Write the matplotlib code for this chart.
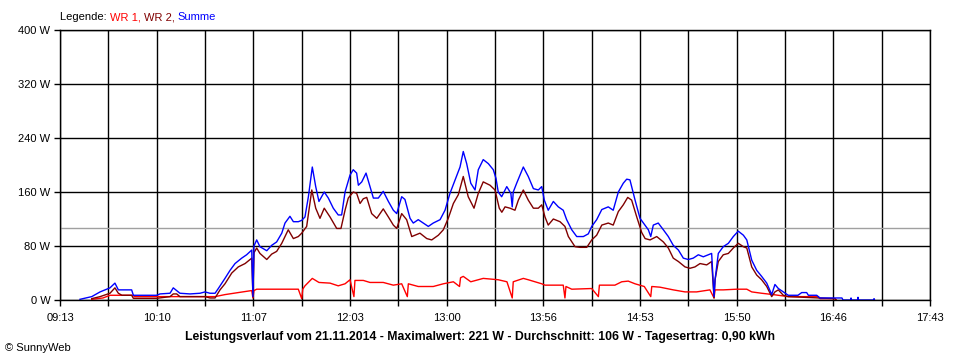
import matplotlib
matplotlib.use("Agg")
import matplotlib.pyplot as plt
from matplotlib.ticker import FixedLocator

# ---------------- data (time = minutes after 09:13, power in W) ----------------
start_minute = 553          # 09:13
end_minute = 1063           # 17:43
x_tick_labels = ["09:13", "10:10", "11:07", "12:03", "13:00",
                 "13:56", "14:53", "15:50", "16:46", "17:43"]
y_tick_values = [0, 80, 160, 240, 320, 400]
average_w = 106

sum_t = [11.7, 18.6, 23.5, 29.3, 32.2, 34.2, 42.0, 43.0, 56.7, 58.6, 64.5, 66.4,
         70.3, 76.2, 82.1, 85.0, 87.9, 90.9, 92.8, 96.7, 99.7, 102.6, 106.5,
         109.4, 112.4, 113.1, 113.7, 115.3, 117.2, 121.2, 124.1, 127.0, 130.0,
         131.9, 134.8, 136.8, 139.7, 141.7, 143.6, 145.6, 147.9, 149.9, 151.8,
         154.9, 157.3, 160.2, 163.1, 165.1, 167.1, 170.0, 171.9, 173.9, 174.9,
         176.9, 179.4, 181.7, 183.7, 186.6, 189.5, 192.5, 195.4, 197.4, 200.3,
         202.2, 205.2, 207.1, 210.0, 213.0, 215.9, 218.8, 222.8, 225.7, 228.6,
         231.6, 234.5, 236.4, 238.4, 240.8, 243.3, 245.2, 248.1, 251.1, 254.0,
         255.6, 256.9, 258.9, 261.9, 264.3, 265.1, 265.7, 267.7, 271.6, 274.5,
         277.5, 280.4, 282.4, 283.9, 286.2, 289.2, 292.1, 295.0, 297.0, 300.0,
         302.9, 306.8, 309.7, 311.7, 314.6, 317.6, 321.4, 324.3, 327.3, 330.2,
         332.2, 334.1, 337.1, 340.0, 342.9, 344.9, 346.3, 347.8, 350.7, 353.7,
         356.6, 359.5, 362.5, 365.4, 368.3, 371.2, 374.2, 377.1, 380.0, 382.0,
         383.4, 384.0, 385.9, 388.8, 391.8, 394.7, 397.6, 400.6, 402.6, 405.5,
         408.4, 411.3, 414.3, 417.2, 419.1, 421.1, 424.0, 426.9, 432.6, 434.8,
         437.7, 438.7, 443.6, 445.5, 458.4, 459.0, 463.4, 463.7, 464.0, 467.5,
         467.8, 468.1, 476.9, 477.2, 477.5]
sum_w = [1, 5, 12, 18, 25, 15, 15, 7, 7, 9, 10, 18,
         10, 9, 10, 12, 10, 10, 17, 32, 44, 54, 62,
         67, 74, 5, 80, 89, 79, 73, 81, 86, 99,
         114, 124, 116, 116, 118, 123, 153, 197, 168, 146,
         160, 151, 136, 126, 126, 160, 185, 193, 188, 170,
         175, 188, 168, 151, 151, 161, 146, 133, 128, 153,
         149, 121, 114, 119, 114, 109, 114, 119, 133, 158,
         178, 197, 220, 202, 173, 163, 193, 208, 202, 193,
         180, 160, 153, 168, 158, 138, 160, 173, 197, 183,
         165, 163, 168, 148, 133, 146, 138, 133, 119, 104,
         94, 94, 98, 109, 119, 134, 138, 133, 160, 173,
         179, 178, 148, 121, 111, 104, 94, 111, 114, 104,
         94, 81, 74, 62, 60, 62, 67, 64, 67, 69,
         5, 30, 69, 79, 84, 94, 102, 96, 89, 59,
         44, 35, 25, 8, 23, 17, 12, 7, 7, 11,
         11, 7, 7, 3, 3, 0, 0, 3, 0, 0,
         4, 0, 0, 2, 0]

wr2_t = [18.6, 23.5, 29.3, 32.2, 34.2, 36.3, 42.0, 43.0, 56.7, 64.5, 66.4, 68.4,
         70.3, 85.0, 87.9, 90.9, 93.8, 96.7, 100.7, 104.5, 108.5, 112.4, 113.1,
         113.7, 115.3, 117.2, 121.2, 124.1, 127.0, 130.0, 133.8, 136.8, 139.7,
         141.7, 144.6, 147.6, 149.9, 152.4, 154.9, 158.3, 162.2, 164.7, 167.1,
         169.0, 171.9, 173.9, 175.9, 177.8, 179.8, 182.7, 185.7, 189.5, 192.5,
         195.4, 197.4, 200.3, 203.2, 206.2, 211.0, 215.0, 217.9, 221.8, 224.7,
         227.6, 230.6, 233.5, 236.4, 239.3, 242.7, 245.2, 248.1, 252.1, 255.0,
         257.5, 259.0, 260.9, 263.8, 266.7, 268.7, 271.6, 274.5, 277.5, 280.4,
         282.4, 284.3, 286.2, 289.2, 293.1, 296.0, 298.0, 301.9, 304.8, 308.8,
         311.7, 314.6, 317.6, 321.4, 324.3, 327.3, 330.2, 332.8, 335.1, 338.1,
         341.0, 343.0, 345.9, 349.8, 353.7, 356.6, 359.5, 362.5, 366.4, 369.3,
         372.2, 375.2, 379.1, 382.0, 383.4, 384.0, 385.9, 388.8, 391.8, 394.7,
         397.6, 400.6, 402.6, 405.5, 408.4, 411.3, 414.3, 417.2, 419.1, 421.1,
         424.0, 426.9, 445.5, 454.3, 455.0]
wr2_w = [2, 5, 10, 18, 10, 7, 7, 2.5, 2.5, 5, 9, 9,
         5, 5, 3, 3, 15, 24, 40, 49, 54, 62, 5,
         70, 77, 69, 60, 68, 72, 84, 104, 91, 94,
         99, 109, 163, 136, 121, 136, 123, 106, 106, 133,
         151, 160, 158, 143, 150, 152, 128, 121, 135, 123,
         111, 106, 128, 119, 94, 99, 91, 89, 96, 104,
         121, 143, 156, 183, 153, 136, 158, 175, 170, 163,
         136, 130, 138, 136, 133, 148, 163, 148, 136, 136,
         141, 123, 111, 120, 116, 109, 94, 79, 78, 78,
         89, 96, 111, 114, 111, 131, 141, 152, 148, 123,
         100, 91, 89, 94, 86, 77, 62, 57, 49, 47,
         49, 54, 52, 57, 3, 30, 57, 67, 69, 77,
         84, 79, 77, 49, 37, 30, 20, 5, 12, 15,
         7, 5, 3, 2, 0]

wr1_t = [18.6, 25.2, 29.3, 43.0, 43.5, 85.0, 90.9, 96.7, 104.5, 112.4, 113.1, 113.7,
         115.3, 139.7, 141.7, 142.3, 143.6, 147.9, 151.8, 158.3, 163.1, 167.1,
         170.0, 172.3, 172.9, 177.8, 181.7, 189.5, 195.4, 200.3, 203.6, 204.2,
         210.0, 218.8, 224.7, 230.6, 234.2, 234.8, 236.4, 240.8, 248.1, 256.9,
         262.0, 265.1, 265.7, 271.6, 274.5, 282.4, 284.3, 295.0, 296.0, 296.6,
         300.0, 311.7, 315.6, 316.2, 317.6, 325.3, 329.3, 333.1, 337.1, 342.5,
         346.3, 346.9, 351.7, 359.5, 366.4, 373.2, 381.0, 383.4, 384.0, 388.8,
         396.7, 402.6, 405.5, 411.3, 418.1, 426.9, 444.3, 445.5, 454.3, 455.0]
wr1_w = [1, 3, 7, 7, 5, 5, 5, 8, 11, 14, 3, 14,
         16, 16, 2, 16, 21, 32, 26, 25, 21, 24,
         30, 5, 29, 29, 26, 26, 22, 24, 5, 24,
         20, 20, 24, 27, 20, 33, 35, 27, 32, 30,
         27, 3, 27, 32, 30, 24, 22, 22, 3, 20,
         16, 17, 5, 22, 22, 22, 27, 28, 24, 20,
         5, 20, 19, 15, 12, 12, 15, 3, 15, 15,
         16, 16, 12, 10, 8, 5, 5, 2, 2, 0]

title_text = ("Leistungsverlauf vom 21.11.2014 - Maximalwert: 221 W - "
              "Durchschnitt: 106 W - Tagesertrag: 0,90 kWh")

# ---------------- figure ----------------
plt.rcParams['font.family'] = ['Liberation Sans', 'DejaVu Sans']
fig = plt.figure(figsize=(9.6, 3.6), dpi=100, facecolor="white")
ax = fig.add_axes([60 / 960, 60 / 360, 870 / 960, 270 / 360])
ax.set_facecolor("white")

span = end_minute - start_minute
n_major = len(x_tick_labels) - 1
major_pos = [start_minute + i * span / n_major for i in range(n_major + 1)]
minor_pos = [start_minute + (i + 0.5) * span / n_major for i in range(n_major)]

ax.set_xlim(start_minute, end_minute)
ax.set_ylim(0, 400)

ax.xaxis.set_major_locator(FixedLocator(major_pos))
ax.xaxis.set_minor_locator(FixedLocator(minor_pos))
ax.set_xticklabels(x_tick_labels)
ax.set_yticks(y_tick_values)
ax.set_yticklabels([f"{v} W" for v in y_tick_values])

ax.grid(True, which="both", axis="x", color="black", linewidth=1.0)
ax.grid(True, which="major", axis="y", color="black", linewidth=1.0)
ax.set_axisbelow(True)
for s in ax.spines.values():
    s.set_color("black")
    s.set_linewidth(1.0)

ax.tick_params(axis="x", which="both", direction="out", length=4.5, width=1,
               labelsize=8, pad=5, color="black")
ax.tick_params(axis="y", which="major", direction="out", length=4.5, width=1,
               labelsize=8, pad=2.5, color="black")

ax.axhline(average_w, color="#a0a0a0", linewidth=1.0, zorder=1.5)

common = dict(lw=1.0)
ax.plot([start_minute + t for t in wr1_t], wr1_w, color="#ff0000", zorder=2, **common)
ax.plot([start_minute + t for t in wr2_t], wr2_w, color="#800000", zorder=2.1, **common)
ax.plot([start_minute + t for t in sum_t], sum_w, color="#0000ff", zorder=2.2, **common)

# legend line at top
renderer = fig.canvas.get_renderer()
parts = [("Legende: ", "black"), ("WR 1, ", "#ff0000"),
         ("WR 2, ", "#800000"), ("Summe", "#0000ff")]
xpix = 60
for txt, col in parts:
    t = fig.text(xpix / 960, 1 - 17 / 360, txt, color=col, fontsize=8,
                 ha="left", va="center")
    bb = t.get_window_extent(renderer=renderer)
    xpix += bb.width

fig.text(0.5, 1 - 337 / 360, title_text, fontsize=8.8, fontweight="bold",
         ha="center", va="center")
fig.text(5 / 960, 1 - 348 / 360, "© SunnyWeb", fontsize=8, ha="left", va="center")

fig.savefig("out.png", dpi=100, facecolor="white")
